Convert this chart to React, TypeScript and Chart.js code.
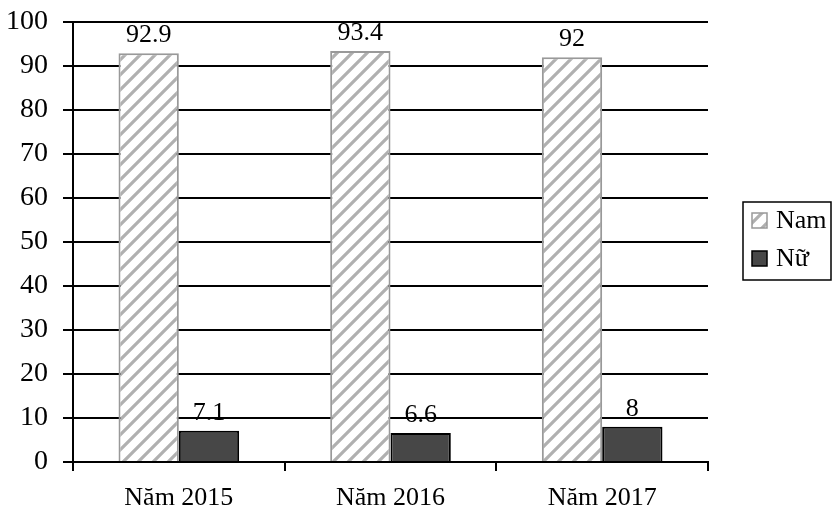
import React, { useEffect, useRef } from "react";
import { Chart, registerables } from "chart.js";

Chart.register(...registerables);

const categories = ["Năm 2015", "Năm 2016", "Năm 2017"];
const namValues = [92.9, 93.4, 92];
const nuValues = [7.1, 6.6, 8];
const seriesLabels = ["Nam", "Nữ"];
const yTicks = [0, 10, 20, 30, 40, 50, 60, 70, 80, 90, 100];

const FONT = "'Liberation Serif', 'Times New Roman', serif";

function makeHatch(): CanvasPattern | string {
  const size = 15;
  const c = document.createElement("canvas");
  c.width = size;
  c.height = size;
  const ctx = c.getContext("2d");
  if (!ctx) return "#ccc";
  ctx.fillStyle = "#ffffff";
  ctx.fillRect(0, 0, size, size);
  ctx.strokeStyle = "#b0b0b0";
  ctx.lineWidth = 3.2;
  ctx.lineCap = "square";
  for (let k = -1; k <= 1; k++) {
    ctx.beginPath();
    ctx.moveTo(k * size - 2, size + 2);
    ctx.lineTo(k * size + size + 2, -2);
    ctx.stroke();
  }
  const p = ctx.createPattern(c, "repeat");
  return p || "#ccc";
}

export default function App() {
  const ref = useRef<HTMLCanvasElement | null>(null);

  useEffect(() => {
    document.body.style.margin = "0";
    const canvas = ref.current;
    if (!canvas) return;
    const hatch = makeHatch();
    const darkFill = "#474747";

    const valueLabels = {
      id: "valueLabels",
      afterDatasetsDraw(chart: any) {
        const ctx = chart.ctx;
        ctx.save();
        ctx.font = `26px ${FONT}`;
        ctx.fillStyle = "#000";
        ctx.textAlign = "center";
        ctx.textBaseline = "bottom";
        chart.data.datasets.forEach((ds: any, di: number) => {
          const meta = chart.getDatasetMeta(di);
          meta.data.forEach((bar: any, i: number) => {
            const v = ds.data[i];
            ctx.fillText(String(v), bar.x, bar.y - 5);
          });
        });
        ctx.restore();
      },
    };

    const boxedLegend = {
      id: "boxedLegend",
      afterDraw(chart: any) {
        const ctx = chart.ctx;
        const area = chart.chartArea;
        const left = area.right + 35;
        const right = chart.width - 2;
        const cy = (area.top + area.bottom) / 2;
        const top = cy - 40;
        const bottom = cy + 38;
        ctx.save();
        ctx.strokeStyle = "#000";
        ctx.lineWidth = 1.5;
        ctx.strokeRect(left, top, right - left, bottom - top);
        const items = [
          { fill: hatch, stroke: "#999999", label: seriesLabels[0] },
          { fill: darkFill, stroke: "#000000", label: seriesLabels[1] },
        ];
        ctx.font = `26px ${FONT}`;
        ctx.textBaseline = "middle";
        ctx.textAlign = "left";
        items.forEach((it, i) => {
          const y = top + 18 + i * 38;
          ctx.fillStyle = it.fill as any;
          ctx.fillRect(left + 9, y - 7, 15, 15);
          ctx.strokeStyle = it.stroke;
          ctx.lineWidth = 1.5;
          ctx.strokeRect(left + 9, y - 7, 15, 15);
          ctx.fillStyle = "#000";
          ctx.fillText(it.label, left + 33, y + 1);
        });
        ctx.restore();
      },
    };

    const chart = new Chart(canvas, {
      type: "bar",
      data: {
        labels: categories,
        datasets: [
          {
            label: seriesLabels[0],
            data: namValues,
            backgroundColor: hatch as any,
            borderColor: "#999999",
            borderWidth: 2,
            borderSkipped: "bottom",
            categoryPercentage: 0.57,
            barPercentage: 1,
          },
          {
            label: seriesLabels[1],
            data: nuValues,
            backgroundColor: darkFill,
            borderColor: "#000000",
            borderWidth: 2,
            borderSkipped: "bottom",
            categoryPercentage: 0.57,
            barPercentage: 1,
          },
        ],
      },
      options: {
        animation: false,
        responsive: false,
        maintainAspectRatio: false,
        layout: { padding: { top: 22, right: 125, left: 0, bottom: 0 } },
        plugins: {
          legend: { display: false },
          tooltip: { enabled: false },
        },
        scales: {
          x: {
            offset: true,
            grid: {
              display: true,
              offset: true,
              drawOnChartArea: false,
              drawTicks: true,
              tickLength: 9,
              color: "#000",
              lineWidth: 2,
            },
            border: { display: true, color: "#000", width: 2 },
            ticks: {
              color: "#000",
              font: { family: FONT, size: 26 },
              padding: 12,
            },
            afterFit(scale: any) {
              scale.height = 50;
              scale.paddingLeft = 0;
              scale.paddingRight = 0;
            },
          },
          y: {
            min: 0,
            max: 100,
            afterBuildTicks(scale: any) {
              scale.ticks = yTicks.map((v) => ({ value: v }));
            },
            grid: {
              color: "#000",
              lineWidth: 2,
              drawTicks: true,
              tickLength: 10,
            },
            border: { display: true, color: "#000", width: 2 },
            ticks: {
              color: "#000",
              font: { family: FONT, size: 28 },
              padding: 15,
            },
            afterFit(scale: any) {
              scale.width = 73;
              scale.paddingTop = 0;
              scale.paddingBottom = 0;
            },
          },
        },
      },
      plugins: [valueLabels, boxedLegend],
    });
    return () => chart.destroy();
  }, []);

  return (
    <div style={{ width: 833, height: 512, background: "#fff" }}>
      <canvas ref={ref} width={833} height={512} style={{ display: "block" }} />
    </div>
  );
}
